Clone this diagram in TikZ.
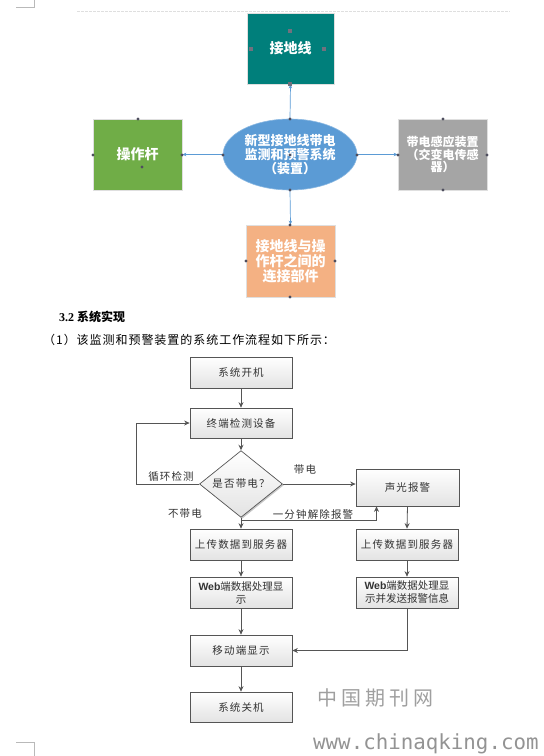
\documentclass[tikz,border=0pt]{standalone}
\usepackage{fontspec}
\setmainfont{Liberation Serif}
\newfontfamily\cjk{Noto Sans CJK SC}
\newfontfamily\cjks{Noto Sans CJK SC}[LetterSpace=11]
\newfontfamily\cjki{Noto Sans CJK SC}[LetterSpace=8]
\newfontfamily\lsans{Liberation Sans}
\newfontfamily\wmono{DejaVu Sans Mono}
\usetikzlibrary{shapes.geometric,arrows.meta,shadows}
\definecolor{tealc}{HTML}{007F7B}
\definecolor{greenc}{HTML}{70AD47}
\definecolor{bluec}{HTML}{5B9BD5}
\definecolor{grayc}{HTML}{A5A5A5}
\definecolor{orangec}{HTML}{F4B183}
\definecolor{handlec}{HTML}{4E4E5E}
\definecolor{linec}{HTML}{555555}
\definecolor{txtc}{HTML}{333333}
\tikzset{
  topbox/.style={rectangle, draw=gray!25, line width=0.8pt, text=white, align=center, inner sep=1pt,
    font=\cjk\bfseries},
  blueline/.style={draw=bluec, line width=0.7pt, -{Stealth[length=4pt,width=3.5pt]}},
  handle/.style={circle, fill=handlec, inner sep=0pt, minimum size=3.4pt},
  sqhandle/.style={rectangle, fill=handlec!80, inner sep=0pt, minimum size=3.4pt},
  flowbox/.style={rectangle, draw=linec, line width=0.7pt, top color=white, bottom color=gray!22,
    drop shadow={shadow xshift=1.3pt, shadow yshift=-1.3pt, opacity=0.55, fill=gray!80},
    text=txtc, align=center, inner sep=1pt, minimum width=102pt, minimum height=31pt,
    font=\cjks\fontsize{10.5}{13}\selectfont},
  webbox/.style={flowbox, font=\cjk\fontsize{10.5}{13}\selectfont},
  flowarr/.style={draw=linec, line width=0.8pt, -{Stealth[length=5.5pt,width=5pt]}},
  lbl/.style={text=txtc, inner sep=0pt, font=\cjks\fontsize{10.5}{12}\selectfont},
}
\begin{document}
\begin{tikzpicture}[x=1pt,y=-1pt]
\useasboundingbox (0,0) rectangle (544,756);
% page marks
\draw[gray!55, line width=0.6pt] (16,7) -- (34,7) -- (34,0);
\draw[gray!55, line width=0.6pt] (16,742) -- (34,742) -- (34,756);
\draw[gray!25, line width=0.8pt, dash pattern=on 2.5pt off 1.5pt] (77,11) -- (510,11);

% ---------- top structure diagram ----------
\node[topbox, fill=tealc, minimum width=87pt, minimum height=71pt,
  font=\cjk\bfseries\fontsize{14}{15}\selectfont] (ground) at (290.5,48.5) {接地线};
\node[topbox, fill=greenc, minimum width=89pt, minimum height=71pt,
  font=\cjk\bfseries\fontsize{14}{15}\selectfont] (rod) at (137.5,154.5) {操作杆};
\node[topbox, fill=grayc, minimum width=89pt, minimum height=71pt,
  font=\cjk\bfseries\fontsize{12}{12.8}\selectfont] (sensor) at (442.5,154.5) {带电感应装置\\（交变电传感\\器）};
\node[topbox, fill=orangec, minimum width=89pt, minimum height=72pt,
  font=\cjk\bfseries\fontsize{14}{15}\selectfont] (link) at (290.5,261) {接地线与操\\作杆之间的\\连接部件};
\node[ellipse, fill=bluec, draw=bluec!70!white, line width=0.6pt, text=white, align=center,
  minimum width=134pt, minimum height=71pt, inner sep=0pt,
  font=\cjk\bfseries\fontsize{13}{14}\selectfont] (sys) at (290,154.5) {新型接地线带电\\监测和预警系统\\（装置）};

\draw[blueline] (sys.north) -- (ground.south);
\draw[blueline] (sys.west) -- (rod.east);
\draw[blueline] (sys.east) -- (sensor.west);
\draw[blueline] (sys.south) -- (link.north);

% handles
\foreach \p in {(138,119),(93,155),(182,155),(142,167),
                (290,119),(223,155),(357,155),(290,190),(290,155),
                (443,119),(398,155),(487,155),(443,190),
                (290,225),(246,261),(335,261),(290,297)}
  \node[handle] at \p {};
\foreach \p in {(290,31),(251,49),(324,49),(290,84)}
  \node[sqhandle] at \p {};

% ---------- section text ----------
\node[anchor=west, inner sep=0pt, font=\bfseries\fontsize{12}{14}\selectfont] (sec) at (59,317)
  {3.2 {\cjk\bfseries 系统实现}};
\node[anchor=west, inner sep=0pt, font=\cjki\fontsize{12}{14}\selectfont] (intro) at (43,340)
  {（1）该监测和预警装置的系统工作流程如下所示：};

% ---------- flowchart ----------
\node[flowbox] (start) at (241,372.5) {系统开机};
\node[flowbox, minimum height=30pt] (detect) at (241,423) {终端检测设备};
\node[diamond, draw=linec, line width=0.7pt, top color=white, bottom color=gray!22,
  drop shadow={shadow xshift=1.3pt, shadow yshift=-1.3pt, opacity=0.55, fill=gray!80},
  minimum width=83pt, minimum height=48pt, inner sep=0pt, text=txtc,
  font=\cjks\fontsize{10.5}{13}\selectfont] (dia) at (241,484) {是否带电？};
\node[flowbox, minimum width=103pt, minimum height=37pt] (alarm) at (407.5,487.5) {声光报警};
\node[flowbox] (up1) at (241,544.5) {上传数据到服务器};
\node[flowbox] (up2) at (407,544.5) {上传数据到服务器};
\node[webbox] (web1) at (241,592.5) {{\lsans\bfseries Web}端数据处理显\\示};
\node[webbox] (web2) at (407,592.5) {{\lsans\bfseries Web}端数据处理显\\示并发送报警信息};
\node[flowbox] (mobile) at (241,650.5) {移动端显示};
\node[flowbox, minimum height=30pt] (off) at (241,707) {系统关机};

\coordinate (loopc) at (136,484);
\coordinate (j) at (241,520);

\draw[flowarr] (start) -- (detect);
\draw[flowarr] (detect) -- (dia);
\draw[flowarr] (dia.west) -- (loopc) |- (detect.west);
\draw[flowarr] (dia.east) -- (dia.east -| alarm.west);
\draw[flowarr] (dia.south) -- (up1.north);
\draw[flowarr] (j) -| ([xshift=-31pt]alarm.south);
\draw[flowarr] (alarm.south) -- (up2.north);
\draw[flowarr] (up1) -- (web1);
\draw[flowarr] (up2) -- (web2);
\draw[flowarr] (web1) -- (mobile);
\draw[flowarr] (web2.south) |- (mobile.east);
\draw[flowarr] (mobile) -- (off);

\node[lbl] (lloop) at (171,477) {循环检测};
\node[lbl] (lyes) at (305,470) {带电};
\node[lbl] (lno) at (185,514) {不带电};
\node[lbl] (lmin) at (313,514) {一分钟解除报警};

% ---------- watermark ----------
\node[anchor=west, inner sep=0pt, text=gray!75, font=\cjk\fontsize{20}{22}\selectfont] (wm1) at (317,698)
  {中\hspace{4pt}国\hspace{4pt}期\hspace{4pt}刊\hspace{4pt}网};
\node[anchor=west, inner sep=0pt, text=gray!85, font=\wmono\fontsize{20.8}{24}\selectfont] (wm2) at (313,744)
  {www.chinaqking.com};
\end{tikzpicture}
\end{document}
